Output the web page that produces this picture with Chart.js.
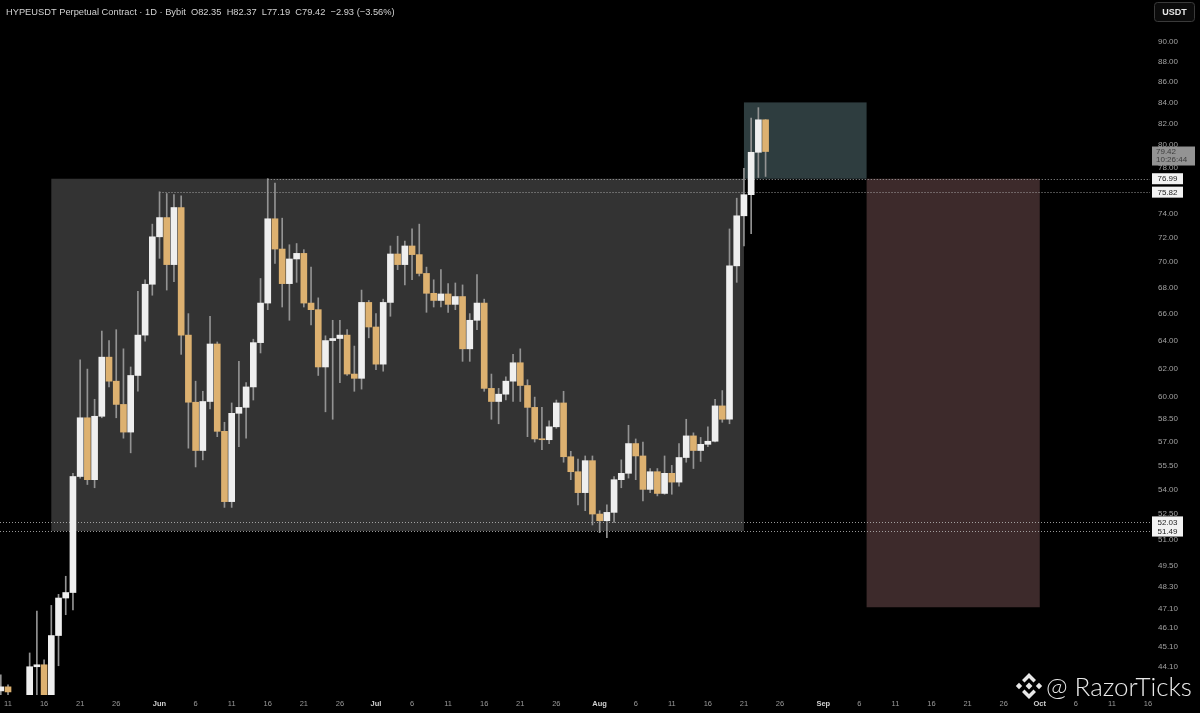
<!DOCTYPE html>
<html>
<head>
<meta charset="utf-8">
<script src="https://cdn.jsdelivr.net/npm/chart.js@4.4.1/dist/chart.umd.min.js"></script>
<style>
html, body { margin: 0; padding: 0; background: #000; }
#wrap { width: 1200px; height: 713px; position: relative; }
</style>
</head>
<body>
<div id="wrap"><canvas id="myChart"></canvas></div>
<script>
// daily candles, day 0 = May 10
const open = [
    42.9, 43.1, 42.6, 41.8, 41.9, 44.1, 44.2, 42.5, 45.7, 47.7,
    48.0, 54.8, 58.6, 54.6, 58.7, 62.8, 61.1, 59.5, 57.65, 61.5,
    64.4, 68.25, 72.05, 73.65, 69.8, 74.5, 64.4, 59.65, 56.45, 59.7,
    63.75, 57.7, 53.25, 58.9, 59.3, 60.7, 63.85, 66.8, 73.55, 71.05,
    68.3, 70.25, 70.7, 66.8, 66.3, 62.1, 64.0, 64.15, 64.4, 61.6,
    61.3, 66.85, 65.0, 62.3, 66.85, 70.65, 69.8, 71.3, 70.6, 69.1,
    67.55, 67.0, 67.5, 66.7, 67.3, 63.4, 65.5, 66.8, 60.6, 59.7,
    60.2, 61.1, 62.4, 60.8, 59.3, 57.2, 57.15, 58.0, 59.6, 56.05,
    55.1, 53.8, 55.8, 52.5, 52.1, 52.6, 54.6, 55.0, 56.9, 56.1,
    54.0, 55.1, 53.75, 55.0, 54.45, 56.0, 57.4, 56.45, 56.85, 57.05,
    59.4, 58.5, 69.7, 73.8, 75.6, 79.35, 82.35
];
const high = [
    43.7, 43.2, 42.65, 42.4, 44.8, 47.0, 44.45, 47.3, 47.9, 48.9,
    55.0, 62.6, 61.95, 59.85, 64.7, 64.0, 64.8, 63.4, 62.1, 67.7,
    68.6, 73.1, 75.85, 75.7, 75.6, 75.5, 66.0, 61.1, 60.4, 65.8,
    63.9, 58.3, 59.6, 62.5, 61.0, 64.1, 68.7, 77.0, 76.6, 73.6,
    71.4, 71.5, 71.0, 69.6, 67.2, 64.35, 65.5, 65.5, 64.8, 63.6,
    67.8, 67.0, 66.0, 67.1, 71.3, 72.1, 71.7, 72.7, 73.1, 69.6,
    68.6, 69.4, 68.3, 68.35, 68.2, 66.0, 69.0, 67.1, 61.6, 60.6,
    61.4, 63.0, 63.4, 61.2, 60.0, 59.3, 58.4, 59.8, 60.4, 56.4,
    55.9, 56.1, 56.1, 52.7, 53.05, 54.8, 55.85, 58.1, 57.2, 57.0,
    55.3, 55.3, 56.1, 55.5, 56.9, 58.5, 57.6, 57.3, 58.0, 59.85,
    60.45, 72.7, 75.3, 77.9, 82.5, 83.5, 82.37
];
const low = [
    42.6, 42.5, 41.4, 41.0, 41.6, 42.3, 42.0, 42.3, 44.15, 46.8,
    47.06, 54.7, 54.3, 54.1, 58.6, 60.7, 58.6, 57.25, 56.3, 60.4,
    63.95, 67.4, 70.3, 67.8, 68.45, 63.0, 56.6, 55.4, 55.85, 59.2,
    57.35, 52.9, 52.9, 56.7, 57.25, 59.8, 63.1, 66.3, 69.9, 66.5,
    65.5, 68.4, 66.5, 65.15, 61.5, 59.0, 58.5, 61.0, 61.5, 60.4,
    60.55, 64.2, 61.9, 61.8, 65.8, 69.4, 68.2, 68.6, 68.9, 66.1,
    66.5, 66.5, 66.1, 66.3, 62.5, 62.5, 64.8, 60.4, 58.5, 58.2,
    59.8, 59.7, 59.7, 57.35, 57.0, 56.5, 56.9, 57.9, 55.7, 54.6,
    53.05, 52.7, 51.85, 51.4, 51.1, 52.0, 54.1, 54.7, 54.6, 53.3,
    53.8, 53.6, 53.7, 53.7, 54.2, 55.7, 55.3, 55.75, 56.7, 57.0,
    58.3, 58.2, 68.4, 71.3, 72.3, 77.1, 77.19
];
const close = [
    43.1, 42.85, 41.8, 41.9, 44.1, 44.2, 42.5, 45.7, 47.7, 48.0,
    54.8, 58.6, 54.6, 58.7, 62.8, 61.1, 59.5, 57.65, 61.5, 64.4,
    68.25, 72.05, 73.65, 69.8, 74.5, 64.4, 59.65, 56.45, 59.7, 63.75,
    57.7, 53.25, 58.9, 59.3, 60.7, 63.85, 66.8, 73.55, 71.05, 68.3,
    70.25, 70.7, 66.8, 66.3, 62.1, 64.0, 64.15, 64.4, 61.6, 61.3,
    66.85, 65.0, 62.3, 66.85, 70.65, 69.8, 71.3, 70.6, 69.1, 67.55,
    67.0, 67.5, 66.7, 67.3, 63.4, 65.5, 66.8, 60.6, 59.7, 60.2,
    61.1, 62.4, 60.8, 59.3, 57.2, 57.15, 58.0, 59.6, 56.05, 55.1,
    53.8, 55.8, 52.5, 52.1, 52.6, 54.6, 55.0, 56.9, 56.1, 54.0,
    55.1, 53.75, 55.0, 54.45, 56.0, 57.4, 56.45, 56.85, 57.05, 59.4,
    58.5, 69.7, 73.8, 75.6, 79.35, 82.35, 79.42
];

const yTicks = [90, 88, 86, 84, 82, 80, 78, 76, 74, 72, 70, 68, 66, 64, 62, 60,
    58.5, 57, 55.5, 54, 52.5, 51, 49.5, 48.3, 47.1, 46.1, 45.1, 44.1];
const xTickDays = [1, 6, 11, 16, 22, 27, 32, 37, 42, 47, 52, 57, 62, 67, 72, 77,
    83, 88, 93, 98, 103, 108, 114, 119, 124, 129, 134, 139, 144, 149, 154, 159];
const xTickLabels = ['11', '16', '21', '26', 'Jun', '6', '11', '16', '21', '26', 'Jul', '6', '11', '16', '21', '26',
    'Aug', '6', '11', '16', '21', '26', 'Sep', '6', '11', '16', '21', '26', 'Oct', '6', '11', '16'];
const monthLabels = ['Jun', 'Jul', 'Aug', 'Sep', 'Oct'];

// drawn zones: [fromDay, toDay, topPrice, bottomPrice]
const zones = [[7, 103, 76.99, 51.49], [103, 120, 84.0, 76.99], [120, 144, 76.99, 47.2]];
const zoneColors = ['#333333', '#2e3d3f', '#3d2a2b'];
// horizontal levels
const levelPrices = [76.99, 75.82, 52.03, 51.49];
const levelFrom = [37, 22, -2, -2];
const lastPrice = 79.42;
const countdown = '10:26:44';
const header = 'HYPEUSDT Perpetual Contract · 1D · Bybit  O82.35  H82.37  L77.19  C79.42  \u22122.93 (\u22123.56%)';

const WHITE = '#efefef', GOLD = '#ddb170', WICK = '#939393';

const overlay = {
    id: 'overlay',
    beforeDatasetsDraw(chart) {
        const {ctx, chartArea: a, scales: {x, y}} = chart;
        ctx.save();
        ctx.beginPath();
        ctx.rect(a.left, a.top, a.right - a.left, a.bottom - a.top);
        ctx.clip();
        zones.forEach((z, i) => {
            const x0 = x.getPixelForValue(z[0]), x1 = x.getPixelForValue(z[1]);
            const y0 = y.getPixelForValue(z[2]), y1 = y.getPixelForValue(z[3]);
            ctx.fillStyle = zoneColors[i];
            ctx.fillRect(x0, y0, x1 - x0, y1 - y0);
        });
        ctx.strokeStyle = 'rgba(190,190,190,0.8)';
        ctx.lineWidth = 1;
        ctx.setLineDash([1, 2]);
        levelPrices.forEach((p, i) => {
            const py = Math.round(y.getPixelForValue(p)) + 0.5;
            ctx.beginPath();
            ctx.moveTo(Math.max(a.left, x.getPixelForValue(levelFrom[i])), py);
            ctx.lineTo(a.right, py);
            ctx.stroke();
        });
        ctx.restore();
    },
    afterDraw(chart) {
        const {ctx, chartArea: a, scales: {y}} = chart;
        ctx.save();
        ctx.textBaseline = 'middle';

        // level tags on the price axis
        ctx.font = '8px "Liberation Sans", Arial, sans-serif';
        ctx.textAlign = 'center';
        levelPrices.forEach(p => {
            const py = y.getPixelForValue(p);
            ctx.fillStyle = '#f2f2f2';
            ctx.fillRect(a.right + 2, py - 5.5, 31, 11);
            ctx.fillStyle = '#222';
            ctx.fillText(p.toFixed(2), a.right + 17.5, py + 0.5);
        });
        // last price tag
        const ly = y.getPixelForValue(lastPrice);
        ctx.fillStyle = 'rgba(160,160,160,0.92)';
        ctx.fillRect(a.right + 2, ly - 5, 43, 19);
        ctx.fillStyle = '#3c3c3c';
        ctx.textAlign = 'left';
        ctx.fillText(lastPrice.toFixed(2), a.right + 6, ly + 0.5);
        ctx.fillText(countdown, a.right + 6, ly + 8.5);

        // currency button
        ctx.fillStyle = '#0b0b0b';
        ctx.strokeStyle = '#3a3a3a';
        ctx.lineWidth = 1;
        ctx.beginPath();
        ctx.roundRect(1154.5, 2.5, 40, 19, 3);
        ctx.fill();
        ctx.stroke();
        ctx.fillStyle = '#e6e6e6';
        ctx.font = 'bold 9px "Liberation Sans", Arial, sans-serif';
        ctx.textAlign = 'center';
        ctx.fillText('USDT', 1174.5, 12.5);

        // header
        ctx.textAlign = 'left';
        ctx.font = '9.3px "Liberation Sans", Arial, sans-serif';
        ctx.fillStyle = '#d2d2d2';
        ctx.fillText(header, 6, 12.5);

        // watermark
        const cx = 1029, cy = 686;
        ctx.fillStyle = '#e8e8e8';
        const diamond = (dx, dy, r) => {
            ctx.beginPath();
            ctx.moveTo(cx + dx, cy + dy - r);
            ctx.lineTo(cx + dx + r, cy + dy);
            ctx.lineTo(cx + dx, cy + dy + r);
            ctx.lineTo(cx + dx - r, cy + dy);
            ctx.closePath();
            ctx.fill();
        };
        diamond(0, 0, 3.4);
        diamond(-10, 0, 3.2);
        diamond(10, 0, 3.2);
        [-1, 1].forEach(s => {
            ctx.beginPath();
            ctx.moveTo(cx, cy + s * 13);
            ctx.lineTo(cx + 7, cy + s * 6);
            ctx.lineTo(cx + 4.5, cy + s * 3.5);
            ctx.lineTo(cx, cy + s * 8);
            ctx.lineTo(cx - 4.5, cy + s * 3.5);
            ctx.lineTo(cx - 7, cy + s * 6);
            ctx.closePath();
            ctx.fill();
        });
        ctx.font = '300 26px Lato, "Noto Sans", sans-serif';
        ctx.fillStyle = 'rgba(245,245,245,0.95)';
        ctx.textAlign = 'left';
        ctx.textBaseline = 'alphabetic';
        ctx.fillText('@ RazorTicks', 1046, 696);
        ctx.restore();
    }
};

const wickData = open.map((o, i) => ({x: i, y: [low[i], high[i]]}));
const bodyData = open.map((o, i) => ({x: i, y: [o, close[i]]}));

Chart.defaults.font.family = '"Liberation Sans", Arial, sans-serif';

new Chart(document.getElementById('myChart'), {
    type: 'bar',
    data: {
        datasets: [{
            label: 'wick',
            data: wickData,
            backgroundColor: WICK,
            barThickness: 1,
            grouped: false,
            order: 2
        }, {
            label: 'body',
            data: bodyData,
            backgroundColor: ctx => {
                const i = ctx.dataIndex;
                return close[i] >= open[i] ? WHITE : GOLD;
            },
            barThickness: 6,
            minBarLength: 1,
            grouped: false,
            order: 1
        }]
    },
    options: {
        responsive: true,
        maintainAspectRatio: false,
        animation: false,
        layout: { padding: 0 },
        plugins: {
            legend: { display: false },
            tooltip: { enabled: false }
        },
        scales: {
            x: {
                type: 'linear',
                offset: false,
                min: -0.111,
                max: 159.28,
                grid: { display: false, drawTicks: false },
                border: { display: false },
                afterBuildTicks: s => { s.ticks = xTickDays.map(v => ({value: v})); },
                afterFit: s => {
                    s.height = 18;
                    s.paddingLeft = 0;
                    s.paddingRight = 0;
                },
                ticks: {
                    autoSkip: false,
                    maxRotation: 0,
                    padding: 4,
                    color: ctx => monthLabels.includes(xTickLabels[ctx.index]) ? '#d0d0d0' : '#9a9a9a',
                    font: ctx => ({
                        size: 7.5,
                        weight: monthLabels.includes(xTickLabels[ctx.index]) ? 'bold' : 'normal'
                    }),
                    callback: (v, i) => xTickLabels[i]
                }
            },
            y: {
                type: 'logarithmic',
                position: 'right',
                min: 42.70,
                max: 94.42,
                bounds: 'data',
                grid: { display: false, drawTicks: false },
                border: { display: false },
                afterBuildTicks: s => { s.ticks = yTicks.map(v => ({value: v})); },
                afterFit: s => {
                    s.width = 50;
                    s.paddingTop = 0;
                    s.paddingBottom = 0;
                },
                ticks: {
                    autoSkip: false,
                    crossAlign: 'near',
                    padding: 8,
                    color: '#a2a2a2',
                    font: { size: 8 },
                    callback: v => Number(v).toFixed(2)
                }
            }
        }
    },
    plugins: [overlay]
});
</script>
</body>
</html>
